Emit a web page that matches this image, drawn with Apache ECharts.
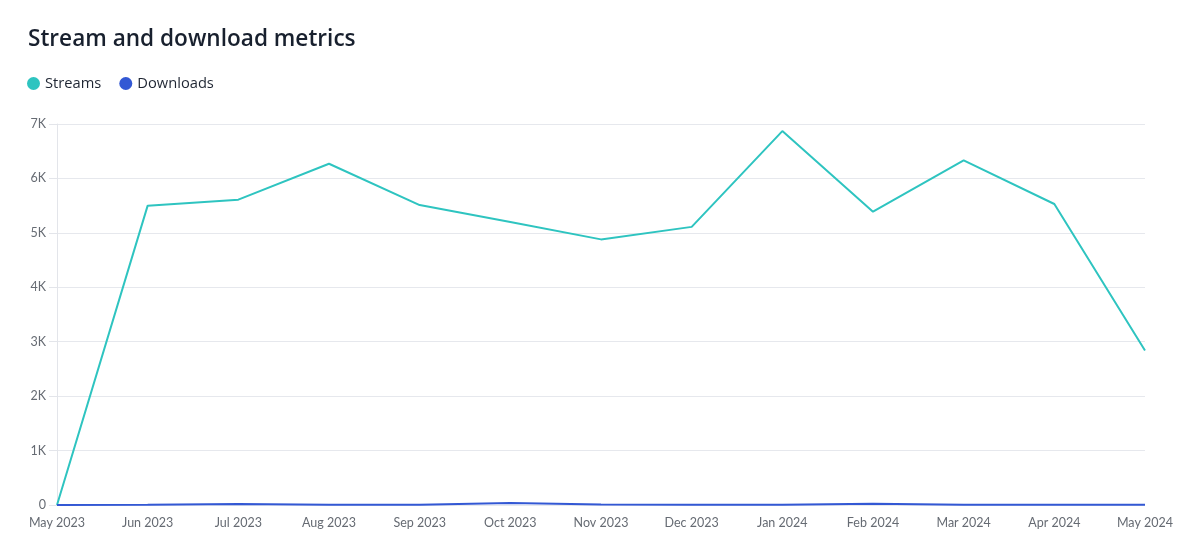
<!DOCTYPE html>
<html>
<head>
<meta charset="utf-8">
<script src="https://cdn.jsdelivr.net/npm/echarts@6/dist/echarts.min.js"></script>
<style>
  html, body { margin: 0; padding: 0; background: #fff; }
  #chart { width: 1200px; height: 555px; }
</style>
</head>
<body>
<div id="chart"></div>
<script>
var months = ['May 2023', 'Jun 2023', 'Jul 2023', 'Aug 2023', 'Sep 2023', 'Oct 2023', 'Nov 2023',
    'Dec 2023', 'Jan 2024', 'Feb 2024', 'Mar 2024', 'Apr 2024', 'May 2024'];
var streams = [0, 5500, 5610, 6270, 5510, 5200, 4880, 5110, 6870, 5390, 6330, 5530, 2840];
var downloads = [0, 5, 20, 5, 5, 35, 8, 5, 5, 25, 5, 5, 5];

var chart = echarts.init(document.getElementById('chart'));
var font = 'Lato, "Noto Sans", sans-serif';
var headFont = '"Open Sans", Lato, sans-serif';

chart.setOption({
    animation: false,
    textStyle: { fontFamily: font },
    title: {
        text: 'Stream and download metrics',
        left: 23,
        top: 23,
        textStyle: { fontSize: 22.6, fontWeight: 600, color: '#18202e', fontFamily: headFont }
    },
    legend: {
        left: 22,
        top: 71,
        icon: 'circle',
        itemWidth: 13,
        itemHeight: 13,
        itemGap: 18,
        textStyle: { fontSize: 14.7, color: '#1f2633', fontFamily: headFont },
        data: ['Streams', 'Downloads']
    },
    grid: { left: 57, right: 55, top: 124, bottom: 50 },
    xAxis: {
        type: 'category',
        data: months,
        boundaryGap: false,
        axisLine: { show: false },
        axisTick: { show: false },
        axisLabel: { color: '#666b73', fontSize: 12.5, margin: 11, interval: 0 }
    },
    yAxis: {
        type: 'value',
        min: 0,
        max: 7000,
        interval: 1000,
        axisLine: { show: true, lineStyle: { color: '#e3e5ea' } },
        axisTick: { show: true, length: 8, lineStyle: { color: '#e3e5ea' } },
        splitLine: { lineStyle: { color: '#e6e8ed' } },
        axisLabel: {
            color: '#666b73',
            fontSize: 12.5,
            margin: 11,
            formatter: function (v) { return v === 0 ? '0' : (v / 1000) + 'K'; }
        }
    },
    series: [
        {
            name: 'Streams',
            type: 'line',
            data: streams,
            symbol: 'none',
            color: '#2ec4c0',
            lineStyle: { width: 2, color: '#2ec4c0' }
        },
        {
            name: 'Downloads',
            type: 'line',
            data: downloads,
            symbol: 'none',
            color: '#3358d4',
            lineStyle: { width: 2, color: '#3358d4' }
        }
    ]
});
</script>
</body>
</html>
